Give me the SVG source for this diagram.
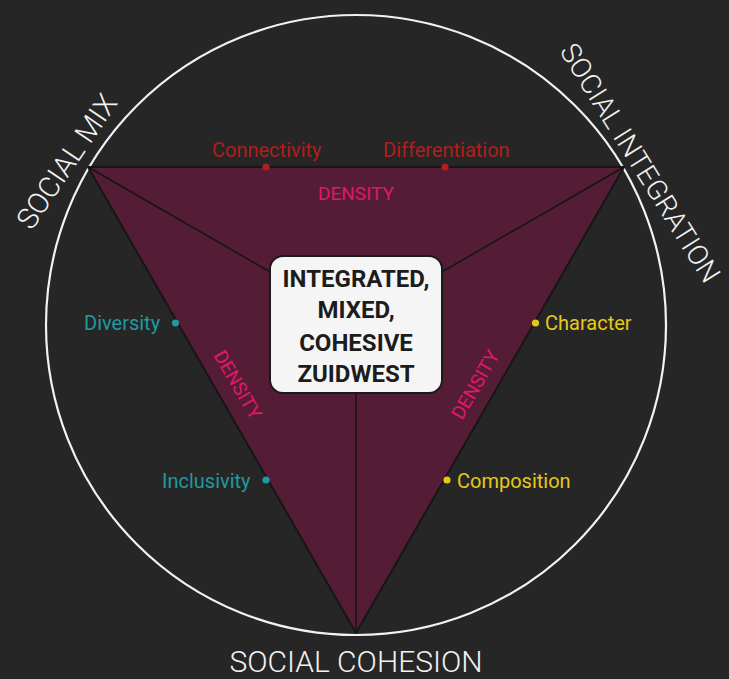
<svg xmlns="http://www.w3.org/2000/svg" width="729" height="679" viewBox="0 0 729 679">
<style>
text{font-family:Roboto,"Liberation Sans",sans-serif}
.big{font-size:29px;font-weight:300;fill:#f2f2f2}
.lbl{font-size:20px}
.red{fill:#b21d1d}
.teal{fill:#1f9aa0}
.yel{fill:#e6c916}
.den{font-size:19px;fill:#e0176a}
.ctr{font-size:24px;font-weight:700;fill:#1c1c1c;text-anchor:middle}
.spoke{stroke:#151515;stroke-width:1.5;fill:none}
</style>
<rect width="729" height="679" fill="#262626"/>
<circle cx="356" cy="325" r="310" fill="none" stroke="#f2f2f2" stroke-width="2.2"/>
<g id="triangle">
<polygon points="88,167 624,167 356,633" fill="#541d35" stroke="#161616" stroke-width="2" stroke-linejoin="round"/>
</g>
<g id="connectors">
<line class="spoke" x1="88" y1="167" x2="272" y2="273"/>
<line class="spoke" x1="624" y1="167" x2="440" y2="273"/>
<line class="spoke" x1="356" y1="392" x2="356" y2="633"/>
</g>
<g id="density-labels">
<text class="den" x="356" y="200" text-anchor="middle">DENSITY</text>
<text class="den" transform="translate(232,388) rotate(60)" text-anchor="middle">DENSITY</text>
<text class="den" transform="translate(481,388) rotate(-60)" text-anchor="middle">DENSITY</text>
</g>
<g id="connectivity">
<circle cx="266" cy="167" r="3.6" fill="#b21d1d"/>
<text class="lbl red" x="212" y="157">Connectivity</text>
</g>
<g id="differentiation">
<circle cx="445" cy="167" r="3.6" fill="#b21d1d"/>
<text class="lbl red" x="383" y="157">Differentiation</text>
</g>
<g id="diversity">
<circle cx="175.5" cy="323" r="3.6" fill="#1f9aa0"/>
<text class="lbl teal" x="84" y="330">Diversity</text>
</g>
<g id="inclusivity">
<circle cx="266" cy="480" r="3.6" fill="#1f9aa0"/>
<text class="lbl teal" x="162" y="487.5">Inclusivity</text>
</g>
<g id="character">
<circle cx="535.5" cy="323" r="3.6" fill="#e6c916"/>
<text class="lbl yel" x="545" y="330">Character</text>
</g>
<g id="composition">
<circle cx="447" cy="480" r="3.6" fill="#e6c916"/>
<text class="lbl yel" x="457" y="487.5">Composition</text>
</g>
<g id="center">
<rect x="270" y="256" width="172" height="137" rx="13" fill="#f5f5f5" stroke="#1a1a1a" stroke-width="2"/>
<text class="ctr" x="356" y="287">INTEGRATED,</text>
<text class="ctr" x="356" y="318">MIXED,</text>
<text class="ctr" x="356" y="351">COHESIVE</text>
<text class="ctr" x="356" y="382">ZUIDWEST</text>
</g>
<g id="social-mix">
<text class="big" transform="translate(75,167) rotate(-56)" text-anchor="middle">SOCIAL MIX</text>
</g>
<g id="social-integration">
<text class="big" transform="translate(632,168) rotate(58)" text-anchor="middle" style="font-size:28px">SOCIAL INTEGRATION</text>
</g>
<g id="social-cohesion">
<text class="big" x="356" y="672" text-anchor="middle" style="font-size:30px">SOCIAL COHESION</text>
</g>
</svg>
